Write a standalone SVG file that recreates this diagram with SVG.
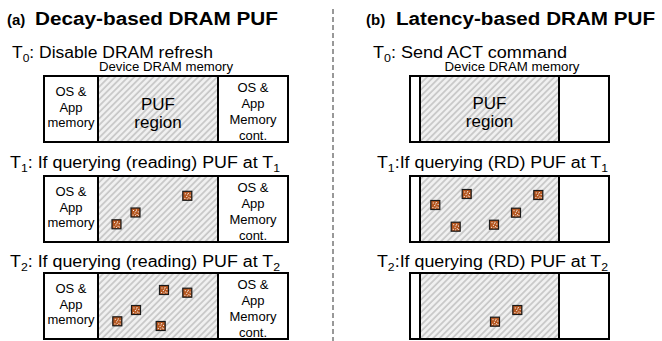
<svg xmlns="http://www.w3.org/2000/svg" xmlns:xlink="http://www.w3.org/1999/xlink" width="662" height="341" viewBox="0 0 662 341">
<style>
  text { font-family: "Liberation Sans", Arial, sans-serif; fill: #000; }
  .tb { font-weight: bold; }
  .t { font-size: 16px; }
  .sm { font-size: 12px; }
  .c { font-size: 13px; text-anchor: middle; }
  .puf { font-size: 17px; text-anchor: middle; }
  .box { fill: #fff; stroke: #000; stroke-width: 2; }
  .frame { fill: none; stroke: #000; stroke-width: 2; }
  .div { stroke: #000; stroke-width: 2; }
  .hatch { fill: url(#hatch); }
</style>
<defs>
  <pattern id="hatch" patternUnits="userSpaceOnUse" width="4.5" height="4.5" patternTransform="rotate(45)">
    <rect width="4.5" height="4.5" fill="#f1f1f1"/>
    <line x1="1" y1="0" x2="1" y2="4.5" stroke="#c6c6c6" stroke-width="1.7"/>
  </pattern>
  <g id="sq">
    <rect x="0" y="0" width="9" height="9" fill="#b5561f" stroke="#1a1a1a" stroke-width="1.2"/>
    <rect x="2" y="2" width="1" height="1" fill="#fff"/>
    <rect x="5" y="1.6" width="1" height="1" fill="#fff"/>
    <rect x="6.8" y="3.4" width="1" height="1" fill="#fff"/>
    <rect x="3.4" y="4.6" width="1" height="1" fill="#fff"/>
    <rect x="5.6" y="6" width="1" height="1" fill="#fff"/>
    <rect x="1.6" y="6.6" width="1" height="1" fill="#fff"/>
    <rect x="4" y="7.2" width="0.9" height="0.9" fill="#fff"/>
    <rect x="7" y="6.8" width="0.9" height="0.9" fill="#fff"/>
    <rect x="4.4" y="3" width="0.9" height="0.9" fill="#fff"/>
  </g>
</defs>

<rect width="662" height="341" fill="#fff"/>

<g id="connectors">
  <line x1="333" y1="9" x2="333" y2="341" stroke="#333" stroke-width="1" stroke-dasharray="5,3"/>
</g>

<g id="panel-a">
  <text x="7" y="25" class="tb" font-size="15">(a)</text>
  <text x="35" y="25" class="tb" font-size="18" textLength="243" lengthAdjust="spacingAndGlyphs">Decay-based DRAM PUF</text>

  <g id="a-t0">
    <text x="12" y="58" class="t" textLength="201" lengthAdjust="spacingAndGlyphs">T<tspan font-size="11" dy="4">0</tspan><tspan dy="-4">: Disable DRAM refresh</tspan></text>
    <text x="166" y="71" class="sm" text-anchor="middle" textLength="134" lengthAdjust="spacingAndGlyphs">Device DRAM memory</text>
    <rect x="44" y="76" width="244" height="66" class="box"/>
    <rect x="98" y="76" width="120" height="66" class="hatch"/>
    <rect x="44" y="76" width="244" height="66" class="frame"/>
    <line x1="98" y1="76" x2="98" y2="142" class="div"/>
    <line x1="218" y1="76" x2="218" y2="142" class="div"/>
    <text x="71" y="96" class="c">OS &amp;</text>
    <text x="71" y="111.5" class="c">App</text>
    <text x="71" y="127" class="c">memory</text>
    <text x="158" y="110" class="puf">PUF</text>
    <text x="158" y="128" class="puf">region</text>
    <text x="253" y="92" class="c">OS &amp;</text>
    <text x="253" y="108" class="c">App</text>
    <text x="253" y="124" class="c">Memory</text>
    <text x="253" y="140" class="c">cont.</text>
  </g>

  <g id="a-t1">
    <text x="10" y="168" class="t" textLength="270" lengthAdjust="spacingAndGlyphs">T<tspan font-size="11" dy="4">1</tspan><tspan dy="-4">: If querying (reading) PUF at T</tspan><tspan font-size="11" dy="4">1</tspan></text>
    <rect x="44" y="176" width="244" height="66" class="box"/>
    <rect x="98" y="176" width="120" height="66" class="hatch"/>
    <rect x="44" y="176" width="244" height="66" class="frame"/>
    <line x1="98" y1="176" x2="98" y2="242" class="div"/>
    <line x1="218" y1="176" x2="218" y2="242" class="div"/>
    <text x="71" y="196" class="c">OS &amp;</text>
    <text x="71" y="211.5" class="c">App</text>
    <text x="71" y="227" class="c">memory</text>
    <text x="253" y="192" class="c">OS &amp;</text>
    <text x="253" y="208" class="c">App</text>
    <text x="253" y="224" class="c">Memory</text>
    <text x="253" y="240" class="c">cont.</text>
    <use xlink:href="#sq" x="182.8" y="191.3"/>
    <use xlink:href="#sq" x="131" y="208"/>
    <use xlink:href="#sq" x="112" y="219.8"/>
  </g>

  <g id="a-t2">
    <text x="10" y="267" class="t" textLength="270" lengthAdjust="spacingAndGlyphs">T<tspan font-size="11" dy="4">2</tspan><tspan dy="-4">: If querying (reading) PUF at T</tspan><tspan font-size="11" dy="4">2</tspan></text>
    <rect x="44" y="273" width="244" height="66" class="box"/>
    <rect x="98" y="273" width="120" height="66" class="hatch"/>
    <rect x="44" y="273" width="244" height="66" class="frame"/>
    <line x1="98" y1="273" x2="98" y2="339" class="div"/>
    <line x1="218" y1="273" x2="218" y2="339" class="div"/>
    <text x="71" y="293" class="c">OS &amp;</text>
    <text x="71" y="308.5" class="c">App</text>
    <text x="71" y="324" class="c">memory</text>
    <text x="253" y="289" class="c">OS &amp;</text>
    <text x="253" y="305" class="c">App</text>
    <text x="253" y="321" class="c">Memory</text>
    <text x="253" y="337" class="c">cont.</text>
    <use xlink:href="#sq" x="159.5" y="285.5"/>
    <use xlink:href="#sq" x="182.8" y="288.2"/>
    <use xlink:href="#sq" x="131.5" y="305.5"/>
    <use xlink:href="#sq" x="112.8" y="316.8"/>
    <use xlink:href="#sq" x="156.2" y="321.5"/>
  </g>
</g>

<g id="panel-b">
  <text x="366" y="25" class="tb" font-size="15">(b)</text>
  <text x="396" y="25" class="tb" font-size="18" textLength="259" lengthAdjust="spacingAndGlyphs">Latency-based DRAM PUF</text>

  <g id="b-t0">
    <text x="373" y="58" class="t" textLength="194" lengthAdjust="spacingAndGlyphs">T<tspan font-size="11" dy="4">0</tspan><tspan dy="-4">: Send ACT command</tspan></text>
    <text x="512" y="71" class="sm" text-anchor="middle" textLength="135" lengthAdjust="spacingAndGlyphs">Device DRAM memory</text>
    <rect x="410" y="76" width="199" height="66" class="box"/>
    <rect x="420" y="76" width="139" height="66" class="hatch"/>
    <rect x="410" y="76" width="199" height="66" class="frame"/>
    <line x1="420" y1="76" x2="420" y2="142" class="div"/>
    <line x1="559" y1="76" x2="559" y2="142" class="div"/>
    <text x="489.5" y="109" class="puf">PUF</text>
    <text x="489.5" y="127" class="puf">region</text>
  </g>

  <g id="b-t1">
    <text x="377" y="168" class="t" textLength="231" lengthAdjust="spacingAndGlyphs">T<tspan font-size="11" dy="4">1</tspan><tspan dy="-4">:If querying (RD) PUF at T</tspan><tspan font-size="11" dy="4">1</tspan></text>
    <rect x="410" y="176" width="199" height="66" class="box"/>
    <rect x="420" y="176" width="139" height="66" class="hatch"/>
    <rect x="410" y="176" width="199" height="66" class="frame"/>
    <line x1="420" y1="176" x2="420" y2="242" class="div"/>
    <line x1="559" y1="176" x2="559" y2="242" class="div"/>
    <use xlink:href="#sq" x="462.2" y="189.5"/>
    <use xlink:href="#sq" x="533.8" y="190.5"/>
    <use xlink:href="#sq" x="430.8" y="200.5"/>
    <use xlink:href="#sq" x="511.5" y="208.2"/>
    <use xlink:href="#sq" x="451.2" y="222.2"/>
    <use xlink:href="#sq" x="489.5" y="220.2"/>
  </g>

  <g id="b-t2">
    <text x="377" y="267" class="t" textLength="231" lengthAdjust="spacingAndGlyphs">T<tspan font-size="11" dy="4">2</tspan><tspan dy="-4">:If querying (RD) PUF at T</tspan><tspan font-size="11" dy="4">2</tspan></text>
    <rect x="410" y="273" width="199" height="66" class="box"/>
    <rect x="420" y="273" width="139" height="66" class="hatch"/>
    <rect x="410" y="273" width="199" height="66" class="frame"/>
    <line x1="420" y1="273" x2="420" y2="339" class="div"/>
    <line x1="559" y1="273" x2="559" y2="339" class="div"/>
    <use xlink:href="#sq" x="512.8" y="305.5"/>
    <use xlink:href="#sq" x="490.5" y="317.2"/>
  </g>
</g>
</svg>
